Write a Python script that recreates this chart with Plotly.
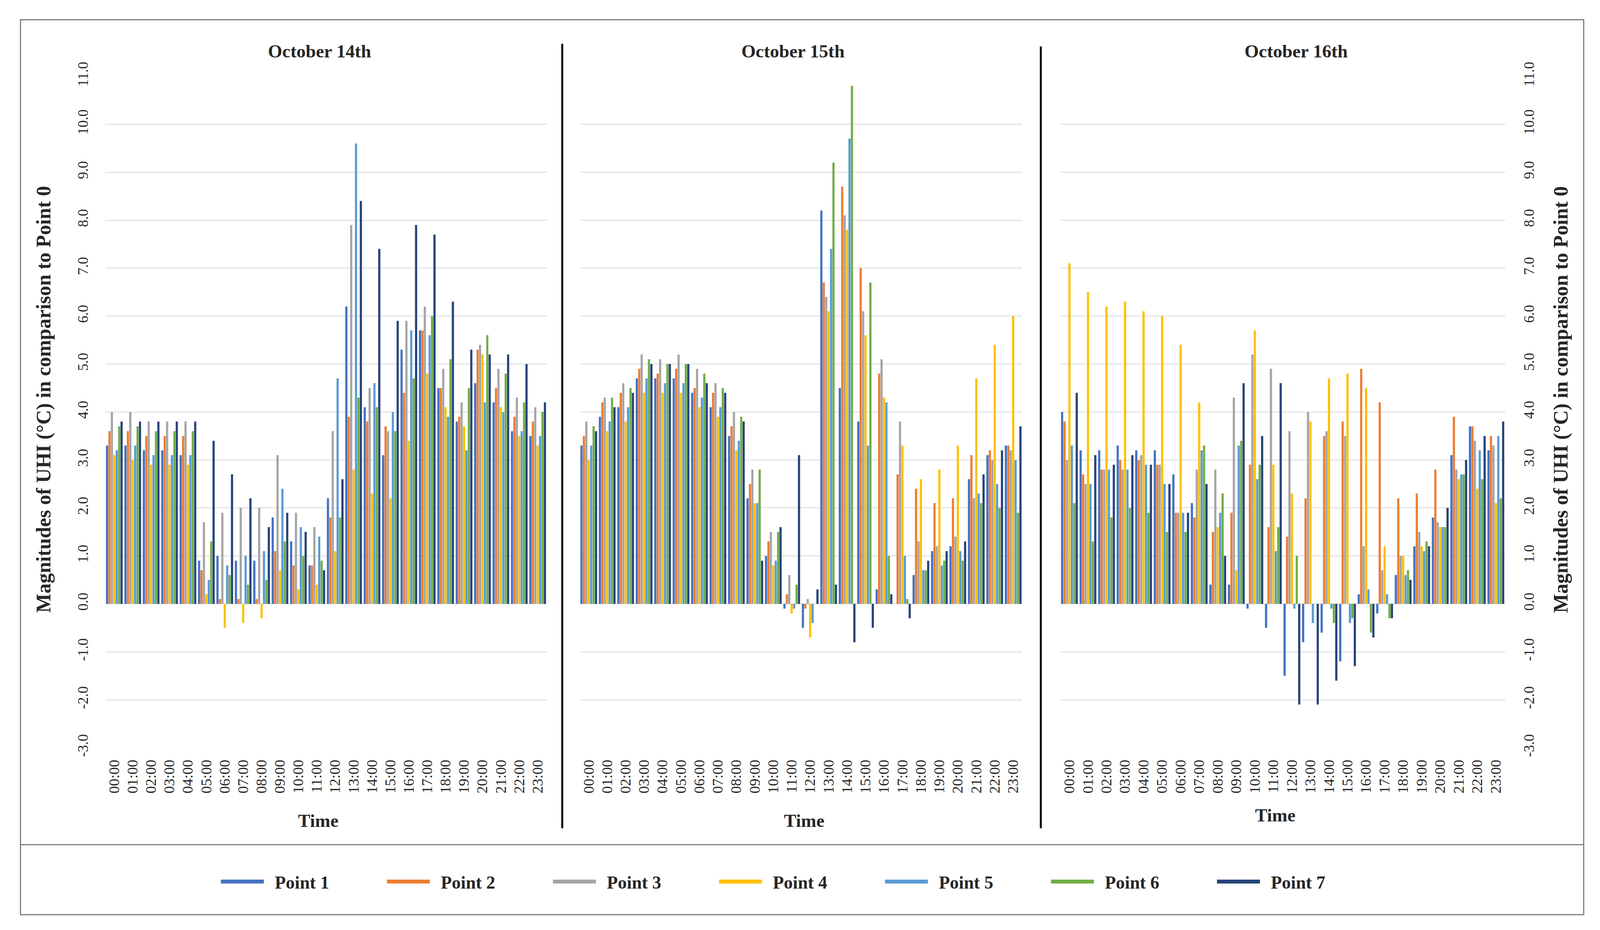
import plotly.graph_objects as go

hours = [f"{h:02d}:00" for h in range(24)]
series_names = ["Point 1", "Point 2", "Point 3", "Point 4", "Point 5", "Point 6", "Point 7"]
colors = ["#4472C4", "#ED7D31", "#A5A5A5", "#FFC000", "#5B9BD5", "#70AD47", "#264478"]
day_titles = ["October 14th", "October 15th", "October 16th"]
y_tick_vals = list(range(-3, 12))
y_tick_text = ["-3.0", "-2.0", "-1.0", "0.0", "1.0", "2.0", "3.0", "4.0", "5.0",
               "6.0", "7.0", "8.0", "9.0", "10.0", "11.0"]

# October 14th
oct14_p1 = [3.3, 3.3, 3.2, 3.2, 3.1, 0.9, 1.0, 0.9, 0.9, 1.8, 1.3, 0.8, 2.2, 6.2, 4.1, 3.1, 5.3, 5.7, 4.5, 3.8, 4.6, 4.2, 3.6, 3.5]
oct14_p2 = [3.6, 3.6, 3.5, 3.5, 3.5, 0.7, 0.1, 0.1, 0.1, 1.1, 0.8, 0.8, 1.8, 3.9, 3.8, 3.7, 4.4, 5.7, 4.5, 3.9, 5.3, 4.5, 3.9, 3.8]
oct14_p3 = [4.0, 4.0, 3.8, 3.8, 3.8, 1.7, 1.9, 2.0, 2.0, 3.1, 1.9, 1.6, 3.6, 7.9, 4.5, 3.6, 5.9, 6.2, 4.9, 4.2, 5.4, 4.9, 4.3, 4.1]
oct14_p4 = [3.1, 3.0, 2.9, 2.9, 2.9, 0.2, -0.5, -0.4, -0.3, 0.7, 0.3, 0.4, 1.1, 2.8, 2.3, 2.2, 3.4, 4.8, 4.1, 3.7, 5.2, 4.1, 3.5, 3.3]
oct14_p5 = [3.2, 3.3, 3.1, 3.1, 3.1, 0.5, 0.8, 1.0, 1.1, 2.4, 1.6, 1.4, 4.7, 9.6, 4.6, 4.0, 5.7, 5.6, 3.9, 3.2, 4.2, 4.0, 3.6, 3.5]
oct14_p6 = [3.7, 3.7, 3.6, 3.6, 3.6, 1.3, 0.6, 0.4, 0.5, 1.3, 1.0, 0.9, 1.8, 4.3, 4.1, 3.6, 4.7, 6.0, 5.1, 4.5, 5.6, 4.8, 4.2, 4.0]
oct14_p7 = [3.8, 3.8, 3.8, 3.8, 3.8, 3.4, 2.7, 2.2, 1.6, 1.9, 1.5, 0.7, 2.6, 8.4, 7.4, 5.9, 7.9, 7.7, 6.3, 5.3, 5.2, 5.2, 5.0, 4.2]

# October 15th
oct15_p1 = [3.3, 3.9, 4.1, 4.7, 4.7, 4.7, 4.4, 4.1, 3.5, 2.2, 1.0, -0.1, -0.5, 8.2, 4.5, 3.8, 0.3, 0.0, 0.6, 1.1, 1.2, 2.6, 3.1, 3.3]
oct15_p2 = [3.5, 4.2, 4.4, 4.9, 4.8, 4.9, 4.5, 4.4, 3.7, 2.5, 1.3, 0.2, -0.1, 6.7, 8.7, 7.0, 4.8, 2.7, 2.4, 2.1, 2.2, 3.1, 3.2, 3.3]
oct15_p3 = [3.8, 4.3, 4.6, 5.2, 5.1, 5.2, 4.9, 4.6, 4.0, 2.8, 1.5, 0.6, 0.1, 6.4, 8.1, 6.1, 5.1, 3.8, 1.3, 1.2, 1.4, 2.2, 3.0, 3.2]
oct15_p4 = [3.0, 3.6, 3.8, 4.4, 4.4, 4.4, 4.1, 3.9, 3.2, 2.1, 0.8, -0.2, -0.7, 6.1, 7.8, 5.6, 4.3, 3.3, 2.6, 2.8, 3.3, 4.7, 5.4, 6.0]
oct15_p5 = [3.3, 3.8, 4.1, 4.7, 4.6, 4.6, 4.3, 4.1, 3.4, 2.1, 0.9, -0.1, -0.4, 7.4, 9.7, 3.3, 4.2, 1.0, 0.7, 0.8, 1.1, 2.3, 2.5, 3.0]
oct15_p6 = [3.7, 4.3, 4.5, 5.1, 5.0, 5.0, 4.8, 4.5, 3.9, 2.8, 1.5, 0.4, 0.0, 9.2, 10.8, 6.7, 1.0, 0.1, 0.7, 0.9, 0.9, 2.1, 2.0, 1.9]
oct15_p7 = [3.6, 4.1, 4.4, 5.0, 5.0, 5.0, 4.6, 4.4, 3.8, 0.9, 1.6, 3.1, 0.3, 0.4, -0.8, -0.5, 0.2, -0.3, 0.9, 1.1, 1.3, 2.7, 3.2, 3.7]

# October 16th
oct16_p1 = [4.0, 3.2, 3.2, 3.3, 3.2, 3.2, 2.7, 2.1, 0.4, 0.4, -0.1, -0.5, -1.5, -0.8, -0.6, -1.2, 0.2, -0.2, 0.6, 1.2, 1.8, 3.1, 3.7, 3.2]
oct16_p2 = [3.8, 2.7, 2.8, 3.0, 3.0, 2.9, 1.9, 1.8, 1.5, 1.9, 2.9, 1.6, 1.4, 2.2, 3.5, 3.8, 4.9, 4.2, 2.2, 2.3, 2.8, 3.9, 3.7, 3.5]
oct16_p3 = [3.0, 2.5, 2.8, 2.8, 3.1, 2.9, 1.9, 2.8, 2.8, 4.3, 5.2, 4.9, 3.6, 4.0, 3.6, 3.5, 1.2, 0.7, 1.0, 1.5, 1.7, 2.8, 3.4, 3.3]
oct16_p4 = [7.1, 6.5, 6.2, 6.3, 6.1, 6.0, 5.4, 4.2, 1.6, 0.7, 5.7, 2.9, 2.3, 3.8, 4.7, 4.8, 4.5, 1.2, 1.0, 1.2, 1.6, 2.6, 2.4, 2.1]
oct16_p5 = [3.3, 2.5, 2.8, 2.8, 2.9, 2.5, 1.9, 3.2, 1.9, 3.3, 2.6, 1.1, -0.1, -0.4, -0.1, -0.4, 0.3, 0.2, 0.6, 1.1, 1.6, 2.7, 3.2, 3.5]
oct16_p6 = [2.1, 1.3, 1.8, 2.0, 1.9, 1.5, 1.5, 3.3, 2.3, 3.4, 2.9, 1.6, 1.0, 0.0, -0.4, -0.3, -0.6, -0.3, 0.7, 1.3, 1.6, 2.7, 2.6, 2.2]
oct16_p7 = [4.4, 3.1, 2.9, 3.1, 2.9, 2.5, 1.9, 2.5, 1.0, 4.6, 3.5, 4.6, -2.1, -2.1, -1.6, -1.3, -0.7, -0.3, 0.5, 1.2, 2.0, 3.0, 3.5, 3.8]

days = [
    [oct14_p1, oct14_p2, oct14_p3, oct14_p4, oct14_p5, oct14_p6, oct14_p7],
    [oct15_p1, oct15_p2, oct15_p3, oct15_p4, oct15_p5, oct15_p6, oct15_p7],
    [oct16_p1, oct16_p2, oct16_p3, oct16_p4, oct16_p5, oct16_p6, oct16_p7],
]

SERIF = "Liberation Serif"
TXT = "#262626"

fig = go.Figure()
for d, day in enumerate(days):
    ax = "" if d == 0 else str(d + 1)
    for s, vals in enumerate(day):
        fig.add_trace(go.Bar(
            x=hours, y=vals, name=series_names[s],
            marker=dict(color=colors[s], line=dict(width=0)),
            xaxis="x" + ax, yaxis="y" + ax, showlegend=False,
        ))

for s in range(7):
    fig.add_trace(go.Scatter(
        x=[None], y=[None], mode="lines", name="\u00a0\u00a0" + series_names[s],
        line=dict(color=colors[s], width=16), xaxis="x", yaxis="y",
    ))

x_domains = [[0.0657, 0.3418], [0.3622, 0.6390], [0.6626, 0.9407]]
y_domain = [0.196, 0.918]

layout = dict(
    autosize=True,
    margin=dict(l=0, r=0, t=0, b=0),
    paper_bgcolor="white", plot_bgcolor="white",
    barmode="group", bargap=0.08, bargroupgap=0.1,
    font=dict(family=SERIF, size=36, color=TXT),
    legend=dict(
        orientation="h", x=0.5, xanchor="center", y=0.052, yanchor="middle",
        font=dict(family=SERIF, size=46, color=TXT, weight="bold"),
        itemwidth=110, entrywidth=300, entrywidthmode="pixels",
        bgcolor="rgba(0,0,0,0)",
    ),
)

for d in range(3):
    sfx = "" if d == 0 else str(d + 1)
    layout["xaxis" + sfx] = dict(
        domain=x_domains[d], anchor="y" + sfx, type="category",
        range=[-0.5, 23.5], showgrid=False, showline=False, zeroline=False,
        ticks="", tickangle=-90, tickfont=dict(family=SERIF, size=38, color=TXT),
        ticklabelstandoff=22, automargin=False,
    )
    layout["yaxis" + sfx] = dict(
        domain=y_domain, anchor="x" + sfx, range=[-3, 11],
        tickmode="array", tickvals=y_tick_vals, ticktext=y_tick_text,
        showgrid=True, gridcolor="#D9D9D9", gridwidth=2,
        zeroline=False, showline=False, ticks="",
        tickangle=-90, tickfont=dict(family=SERIF, size=37, color=TXT),
        showticklabels=(d != 1), side=("right" if d == 2 else "left"),
        ticklabelstandoff=36, automargin=False,
    )

fig.update_layout(**layout)

annotations = []
title_x = [0.1996, 0.4955, 0.810]
time_x = [0.199, 0.5026, 0.797]
time_y = [0.1176, 0.1176, 0.1235]
for d in range(3):
    annotations.append(dict(
        text=day_titles[d], x=title_x[d], y=0.945, xref="paper", yref="paper",
        showarrow=False, font=dict(family=SERIF, size=47, color=TXT, weight="bold"),
        xanchor="center", yanchor="middle",
    ))
    annotations.append(dict(
        text="Time", x=time_x[d], y=time_y[d], xref="paper", yref="paper",
        showarrow=False, font=dict(family=SERIF, size=47, color=TXT, weight="bold"),
        xanchor="center", yanchor="middle",
    ))
ytitle = "Magnitudes of UHI (°C) in comparison to Point 0"
for xpos in [0.0274, 0.9758]:
    annotations.append(dict(
        text=ytitle, x=xpos, y=0.5706, xref="paper", yref="paper", textangle=-90,
        showarrow=False, font=dict(family=SERIF, size=52, color=TXT, weight="bold"),
        xanchor="center", yanchor="middle",
    ))
fig.update_layout(annotations=annotations)

shapes = [
    dict(type="rect", xref="paper", yref="paper", x0=0.0128, x1=0.9898, y0=0.0165, y1=0.9788,
         line=dict(color="#7F7F7F", width=3), fillcolor="rgba(0,0,0,0)", layer="below"),
    dict(type="line", xref="paper", yref="paper", x0=0.0128, x1=0.9898, y0=0.0918, y1=0.0918,
         line=dict(color="#7F7F7F", width=3)),
    dict(type="line", xref="paper", yref="paper", x0=0.3514, x1=0.3514, y0=0.1094, y1=0.953,
         line=dict(color="black", width=5)),
    dict(type="line", xref="paper", yref="paper", x0=0.6505, x1=0.6505, y0=0.1094, y1=0.950,
         line=dict(color="black", width=5)),
]
fig.update_layout(shapes=shapes)

fig.write_html("out.html", default_width="100%", default_height="100%",
               config={"displayModeBar": False})
with open("out.html", "r", encoding="utf-8") as f:
    html = f.read()
style = "<style>html,body{margin:0;padding:0;width:100%;height:100%;overflow:hidden}</style>"
html = html.replace("<head>", "<head>" + style, 1)
with open("out.html", "w", encoding="utf-8") as f:
    f.write(html)
